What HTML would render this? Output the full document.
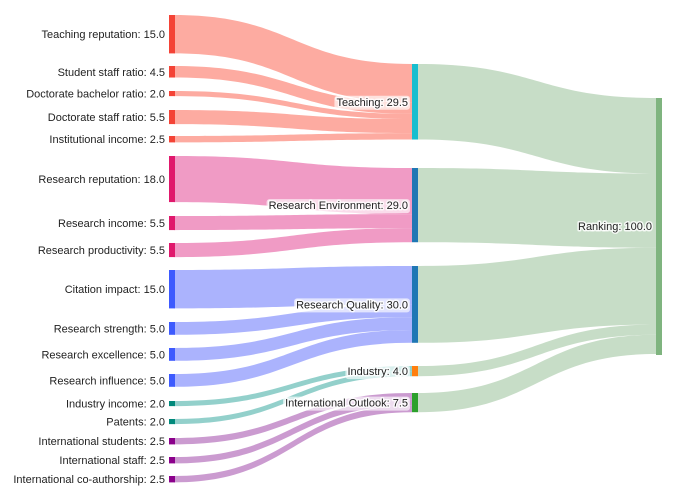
<!DOCTYPE html>
<html><head><meta charset="utf-8"><style>
html,body{margin:0;padding:0;background:#fff;}
svg{display:block;font-family:"Liberation Sans",Arial,sans-serif;font-size:11px;}
text{fill:#222;}
.h{paint-order:stroke;stroke:rgba(255,255,255,0.8);stroke-width:3px;stroke-linejoin:round;}
</style></head><body>
<svg id="s" width="688" height="501" viewBox="0 0 688 501"></svg>
<script>
const S=document.getElementById('s');const NS='http://www.w3.org/2000/svg';
function el(t,a,txt){const e=document.createElementNS(NS,t);for(const k in a)e.setAttribute(k,a[k]);if(txt!=null)e.textContent=txt;S.appendChild(e);return e;}
const k=2.56;
const L=[
["Teaching reputation",15,15,0],["Student staff ratio",4.5,66,0],["Doctorate bachelor ratio",2,91,0],["Doctorate staff ratio",5.5,110,0],["Institutional income",2.5,136,0],
["Research reputation",18,156,1],["Research income",5.5,216,1],["Research productivity",5.5,243,1],
["Citation impact",15,270,2],["Research strength",5,322,2],["Research excellence",5,348,2],["Research influence",5,374,2],
["Industry income",2,401,3],["Patents",2,419,3],
["International students",2.5,438,4],["International staff",2.5,457,4],["International co-authorship",2.5,476,4]];
const M=[["Teaching",29.5,64,"#17becf","rgba(252,150,138,0.8)","#f44336"],["Research Environment",29,168,"#1f77b4","rgba(236,130,182,0.8)","#e0186c"],
["Research Quality",30,266,"#1f77b4","rgba(150,160,252,0.8)","#3d5afe"],["Industry",4,366,"#ff7f0e","rgba(120,196,190,0.8)","#00897b"],
["International Outlook",7.5,393,"#2ca02c","rgba(190,130,196,0.8)","#8b008b"]];
function link(x0,y0,x1,y1,h,c){const xm=(x0+x1)/2;
el('path',{d:`M${x0},${y0}C${xm},${y0} ${xm},${y1} ${x1},${y1}L${x1},${y1+h}C${xm},${y1+h} ${xm},${y0+h} ${x0},${y0+h}Z`,fill:c});}
const off=M.map(m=>m[2]);
// middle -> ranking
let ry=98;const gc="rgba(180,210,180,0.75)";
M.forEach(m=>{const h=m[1]*k;link(418,m[2],656,ry,h,gc);ry+=h;});
L.forEach(l=>{const h=l[1]*k,m=M[l[3]];link(174,l[2],412,off[l[3]],h,m[4]);off[l[3]]+=h;});
L.forEach(l=>{const h=l[1]*k,m=M[l[3]];el('rect',{x:169,y:l[2],width:6,height:h,fill:m[5]});
el('text',{x:165,y:l[2]+h/2+4,'text-anchor':'end'},l[0]+": "+l[1].toFixed(1));});
M.forEach(m=>{const h=m[1]*k;el('rect',{x:412,y:m[2],width:6,height:h,fill:m[3]});
const t=el('text',{x:408,y:m[2]+h/2+4,'text-anchor':'end',class:'h'},m[0]+": "+m[1].toFixed(1));
const b=t.getBBox();const r=document.createElementNS(NS,'rect');
r.setAttribute('x',b.x-2);r.setAttribute('y',b.y-1);r.setAttribute('width',b.width+4);r.setAttribute('height',b.height+2);r.setAttribute('rx',3);r.setAttribute('fill','rgba(255,255,255,0.65)');S.insertBefore(r,t);});
el('rect',{x:656,y:98,width:6,height:257,fill:"#7fb47f"});
const t=el('text',{x:652,y:230,'text-anchor':'end',class:'h'},"Ranking: 100.0");
</script>
</body></html>
